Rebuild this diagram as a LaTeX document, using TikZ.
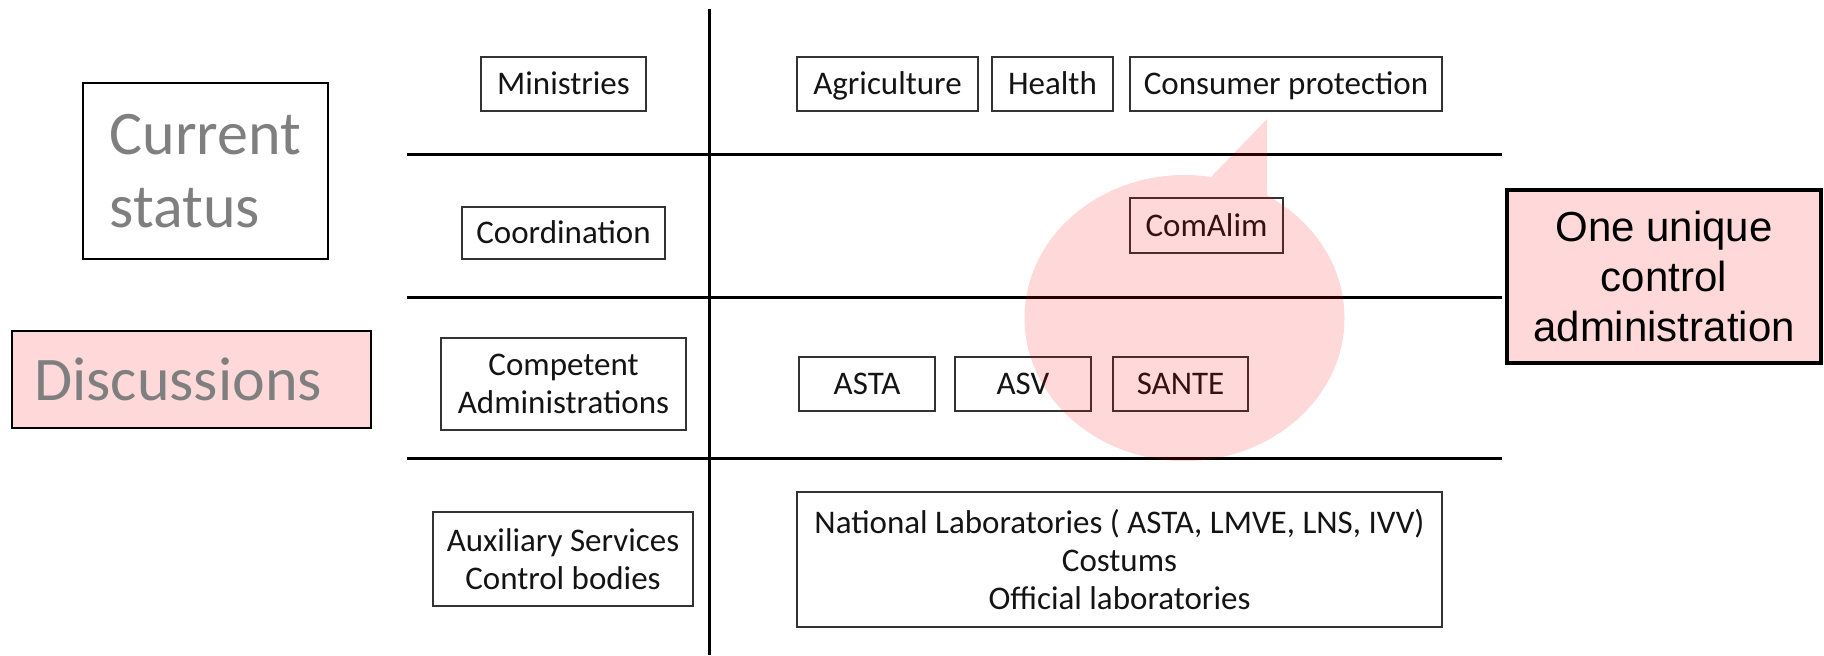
\documentclass[tikz,border=0pt]{standalone}
\usepackage{fontspec}
\setmainfont{Carlito}
\newfontfamily\arialfont{Liberation Sans}
\definecolor{pinkfill}{HTML}{FFD9D9}
\definecolor{graytext}{HTML}{7F7F7F}
\begin{document}
\begin{tikzpicture}[x=0.5pt,y=-0.5pt,
  cell/.style={draw=black!80, line width=0.75pt, inner sep=0pt, align=center,
    font=\fontsize{16.5}{19}\selectfont, text=black!92},
  cellone/.style={cell, align=none, text height=14pt, text depth=3.3pt},
  rulel/.style={line width=1.5pt, black},
  bigtext/.style={font=\fontsize{31}{36.5}\selectfont, text=graytext, inner sep=0pt},
]
\useasboundingbox (0,0) rectangle (1824,655);

% table rules
\draw[rulel] (709,9) -- (709,655);
\draw[rulel] (407,154) -- (1502,154);
\draw[rulel] (407,297) -- (1502,297);
\draw[rulel] (407,458) -- (1502,458);

% left column
\node[cellone, minimum width=82.5pt, minimum height=27pt] (min) at (563.5,84) {Ministries};
\node[cellone, minimum width=101.5pt, minimum height=26pt] (coord) at (563.5,233) {Coordination};
\node[cell, minimum width=122.5pt, minimum height=46pt] (comp) at (563.5,384) {Competent\\Administrations};
\node[cell, minimum width=130pt, minimum height=47pt] (aux) at (563,559) {Auxiliary Services\\Control bodies};

% right column
\node[cellone, minimum width=90.5pt, minimum height=27pt] (agri) at (887.5,84) {Agriculture};
\node[cellone, minimum width=60.5pt, minimum height=27pt] (health) at (1052.5,84) {Health};
\node[cellone, minimum width=156pt, minimum height=27pt] (cons) at (1286,84) {Consumer protection};
\node[cellone, minimum width=76.5pt, minimum height=27.5pt] (comalim) at (1206.5,225.5) {ComAlim};
\node[cellone, minimum width=68pt, minimum height=27pt] (asta) at (867,384) {ASTA};
\node[cellone, minimum width=68pt, minimum height=27pt] (asv) at (1023,384) {ASV};
\node[cellone, minimum width=67.5pt, minimum height=27pt] (sante) at (1180.5,384) {SANTE};
\node[cell, minimum width=322.5pt, minimum height=67.5pt] (natlab) at (1119.5,559.5)
  {National Laboratories ( ASTA, LMVE, LNS, IVV)\\Costums\\Official laboratories};

% side labels
\node[draw=black, line width=1pt, minimum width=122.5pt, minimum height=88pt, inner sep=0pt] (cur) at (205.5,171) {};
\node[bigtext, align=left] (curtext) at (cur.center) {Current\\status};
\node[draw=black, line width=1pt, fill=pinkfill, minimum width=179.5pt, minimum height=48.5pt, inner sep=0pt] (disc) at (191.5,379.5) {};
\node[bigtext, anchor=west] (disctext) at ([xshift=11.5pt]disc.west) {Discussions};

\node[draw=black, line width=2pt, fill=pinkfill, minimum width=157pt, minimum height=86.5pt,
  inner sep=0pt, align=center, font=\arialfont\fontsize{21}{25}\selectfont] (one) at (1664,276.5)
  {One unique\\control\\administration};

% callout bubble
\begin{scope}[transparency group, opacity=0.15]
  \fill[red] (1184.5,318) ellipse [x radius=160, y radius=143];
  \fill[red] (1212,176) -- (1267,119) -- (1267,197) -- (1184.5,318) -- cycle;
\end{scope}
\end{tikzpicture}
\end{document}
